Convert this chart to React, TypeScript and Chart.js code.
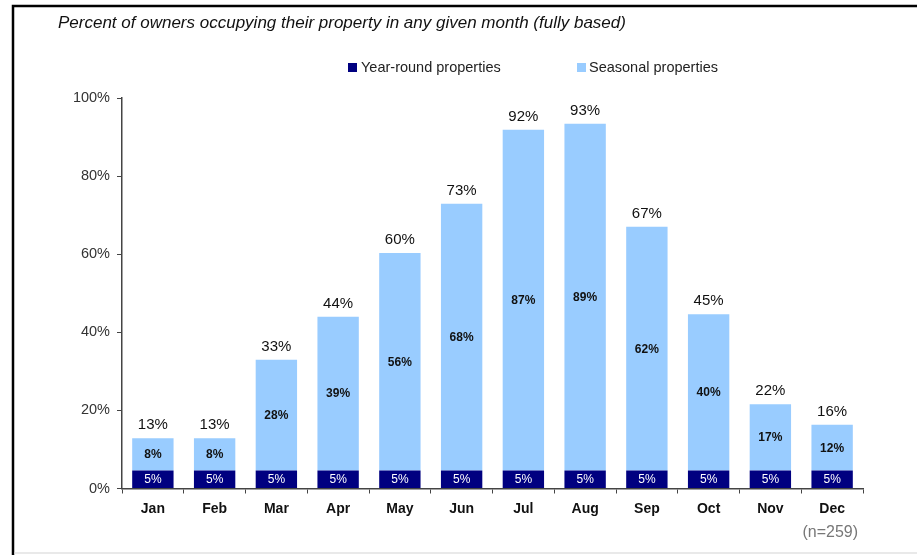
import React, { useEffect, useRef } from "react";
import { Chart, registerables } from "chart.js";

Chart.register(...registerables);

const months = ["Jan", "Feb", "Mar", "Apr", "May", "Jun", "Jul", "Aug", "Sep", "Oct", "Nov", "Dec"];
const yearRound = [4.6, 4.6, 4.6, 4.6, 4.6, 4.6, 4.6, 4.6, 4.6, 4.6, 4.6, 4.6];
const seasonal = [8.3, 8.3, 28.4, 39.4, 55.7, 68.3, 87.3, 88.8, 62.4, 40.0, 17.0, 11.7];
const yTicks = [0, 20, 40, 60, 80, 100];

const titleText = "Percent of owners occupying their property in any given month (fully based)";
const legendLabels = ["Year-round properties", "Seasonal properties"];
const noteText = "(n=259)";

const NAVY = "#000080";
const LIGHT = "#99CCFF";
const FONT = "'Liberation Sans', Arial, sans-serif";

export default function App() {
  const ref = useRef<HTMLCanvasElement | null>(null);

  useEffect(() => {
    if (!ref.current) return;

    const overlay = {
      id: "overlay",
      afterDatasetsDraw(chart: any) {
        const ctx = chart.ctx;
        ctx.save();
        const m0 = chart.getDatasetMeta(0);
        const m1 = chart.getDatasetMeta(1);
        months.forEach((_, i) => {
          const b0 = m0.data[i].getProps(["x", "y", "base"], true);
          const b1 = m1.data[i].getProps(["x", "y", "base"], true);
          // year-round label
          ctx.fillStyle = "#ffffff";
          ctx.font = `12px ${FONT}`;
          ctx.textAlign = "center";
          ctx.textBaseline = "middle";
          ctx.fillText(Math.round(yearRound[i]) + "%", b0.x, (b0.y + b0.base) / 2 + 0.5);
          // seasonal label
          ctx.fillStyle = "#111111";
          ctx.font = `bold 12px ${FONT}`;
          ctx.fillText(Math.round(seasonal[i]) + "%", b1.x, (b1.y + b1.base) / 2 + 0.5);
          // total label
          ctx.font = `15px ${FONT}`;
          ctx.textBaseline = "alphabetic";
          ctx.fillText(Math.round(yearRound[i] + seasonal[i]) + "%", b1.x, b1.y - 9);
        });
        ctx.restore();
      },
      afterDraw(chart: any) {
        const ctx = chart.ctx;
        ctx.save();
        // frame
        ctx.strokeStyle = "#000000";
        ctx.lineWidth = 2.5;
        ctx.beginPath();
        ctx.moveTo(13, 555);
        ctx.lineTo(13, 6);
        ctx.lineTo(917, 6);
        ctx.stroke();
        ctx.strokeStyle = "#e2e2e2";
        ctx.lineWidth = 1.5;
        ctx.beginPath();
        ctx.moveTo(14.5, 553);
        ctx.lineTo(917, 553);
        ctx.stroke();
        // title
        ctx.fillStyle = "#111111";
        ctx.font = `italic 17px ${FONT}`;
        ctx.textAlign = "left";
        ctx.textBaseline = "middle";
        ctx.fillText(titleText, 58, 23);
        // legend
        ctx.font = `14.5px ${FONT}`;
        ctx.fillStyle = NAVY;
        ctx.fillRect(348, 63, 9, 9);
        ctx.fillStyle = "#222222";
        ctx.fillText(legendLabels[0], 361, 68);
        ctx.fillStyle = LIGHT;
        ctx.fillRect(577, 63, 9, 9);
        ctx.fillStyle = "#222222";
        ctx.fillText(legendLabels[1], 589, 68);
        // note
        ctx.fillStyle = "#777777";
        ctx.font = `16px ${FONT}`;
        ctx.textAlign = "right";
        ctx.fillText(noteText, 858, 533);
        ctx.restore();
      },
    };

    const chart = new Chart(ref.current, {
      type: "bar",
      data: {
        labels: months,
        datasets: [
          {
            label: legendLabels[0],
            data: yearRound,
            backgroundColor: NAVY,
            borderWidth: 0,
            categoryPercentage: 1,
            barPercentage: 0.67,
          },
          {
            label: legendLabels[1],
            data: seasonal,
            backgroundColor: LIGHT,
            borderWidth: 0,
            categoryPercentage: 1,
            barPercentage: 0.67,
          },
        ],
      },
      options: {
        responsive: false,
        animation: false,
        layout: { padding: { left: 0, right: 54, top: 98, bottom: 0 } },
        plugins: {
          legend: { display: false },
          title: { display: false },
          tooltip: { enabled: false },
        },
        scales: {
          x: {
            stacked: true,
            grid: {
              display: true,
              drawOnChartArea: false,
              drawTicks: true,
              tickLength: 5,
              color: "#444444",
              offset: true,
            },
            border: { display: true, color: "#444444", width: 1.5 },
            ticks: {
              color: "#111111",
              font: { family: FONT, size: 14, weight: "bold" },
              padding: 7,
              maxRotation: 0,
            },
            afterFit: (s: any) => {
              s.height = 66.5;
            },
          },
          y: {
            stacked: true,
            min: 0,
            max: 100,
            afterBuildTicks: (s: any) => {
              s.ticks = yTicks.map((v) => ({ value: v }));
            },
            grid: {
              display: true,
              drawOnChartArea: false,
              drawTicks: true,
              tickLength: 5,
              color: "#444444",
            },
            border: { display: true, color: "#444444", width: 1.5 },
            ticks: {
              color: "#333333",
              font: { family: FONT, size: 14.5 },
              padding: 7,
              callback: (v: any) => v + "%",
            },
            afterFit: (s: any) => {
              s.width = 122;
            },
          },
        },
      },
      plugins: [overlay],
    });

    return () => chart.destroy();
  }, []);

  return (
    <div style={{ position: "fixed", left: 0, top: 0, width: 917, height: 555, background: "#fff" }}>
      <canvas ref={ref} width={917} height={555} style={{ width: 917, height: 555, display: "block" }} />
    </div>
  );
}
